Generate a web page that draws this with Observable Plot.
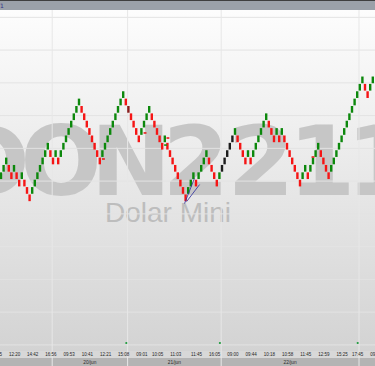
<!DOCTYPE html>
<html><head><meta charset="utf-8">
<script src="https://cdn.jsdelivr.net/npm/d3@7"></script>
<script src="https://cdn.jsdelivr.net/npm/@observablehq/plot@0.6"></script>
<style>
html,body{margin:0;padding:0;background:#fff;}
#wrap{position:relative;width:375px;height:366px;overflow:hidden;}
#topbar{position:absolute;left:0;top:0;width:375px;height:9px;background:#9ba1a9;border-top:1px solid #3f3f3f;}
#topbar span{position:absolute;left:0;top:1px;font:6px "DejaVu Sans";color:#34348a;}
#bg{position:absolute;left:0;top:10px;width:375px;height:356px;
 background:linear-gradient(to bottom,#fdfdfd 0px,#d3d3d3 341px,#d8d8d8 341px,#d8d8d8 348px,#b4b4b4 348px,#b4b4b4 356px);}
#wm{position:absolute;left:0;top:0;width:375px;height:366px;}
#chart{position:absolute;left:0;top:10px;}
</style></head>
<body><div id="wrap">
<div id="topbar"><span>1</span></div>
<div id="bg"></div>
<svg id="wm" width="375" height="366">
 <text y="195" font-family="DejaVu Sans" font-weight="bold" font-size="96" fill="#c6c6c6" text-anchor="middle"><tspan x="-84">W</tspan><tspan x="-10">D</tspan><tspan x="61">O</tspan><tspan x="131">N</tspan><tspan x="196">2</tspan><tspan x="261">2</tspan><tspan x="322">1</tspan><tspan x="380">1</tspan></text>
 <text x="168" y="222" text-anchor="middle" font-family="Liberation Sans" font-size="28" fill="#bdbdbd">Dolar Mini</text>
</svg>
<div id="chart"></div>
</div>
<script>
// Renko brick mid prices (box 4.5), left to right
const bricks = [
5123,5127.5,5132,5127.5,5123,5127.5,5123,5118.5,5123,5118.5,5114,5109.5,
5114,5118.5,5123,5127.5,5132,5136.5,5141,5136.5,5132,5136.5,5132,5136.5,
5141,5145.5,5150,5154.5,5159,5163.5,5168,5163.5,5159,5154.5,5150,5145.5,
5141,5136.5,5132,5136.5,5141,5145.5,5150,5154.5,5159,5163.5,5168,5172.5,
5168,5163.5,5159,5154.5,5150,5145.5,5150,5154.5,5159,5163.5,5159,5154.5,
5150,5145.5,5141,5145.5,5141,5136.5,5132,5127.5,5123,5118.5,5114,5109.5,
5114,5118.5,5123,5118.5,5123,5127.5,5132,5136.5,5132,5127.5,5123,5118.5,
5123,5127.5,5132,5136.5,5141,5145.5,5150,5145.5,5141,5136.5,5132,5136.5,
5132,5136.5,5141,5145.5,5150,5154.5,5159,5154.5,5150,5145.5,5150,5145.5,
5150,5145.5,5141,5136.5,5132,5127.5,5123,5118.5,5123,5127.5,5123,5127.5,
5132,5136.5,5141,5136.5,5132,5127.5,5123,5127.5,5132,5136.5,5141,5145.5,
5150,5154.5,5159,5163.5,5168,5172.5,5177,5181.5,5177,5172.5,5177,5181.5
];
const box = 4.5;
const darkRedBricks = [49];
const blackBricks = [85, 86, 87, 88, 89];
const priceGrid = [5020, 5040, 5060, 5080, 5100, 5120, 5140, 5160, 5180, 5200, 5220];
const timeTickIdx = [-2, 5, 12, 19, 26, 33, 40, 47, 54, 60, 67, 75, 82, 89, 96, 103, 110, 117, 124, 131, 137, 144];
const timeLabels = ["10:55","12:20","14:42","16:56","09:53","10:41","12:21","15:08","09:01","10:05","11:03",
                    "11:45","16:05","09:00","09:44","10:18","10:58","11:45","12:59","15:25","17:45","09:04"];
const dayLabels = ["20/jun", "21/jun", "22/jun"];
const dayFirst = [20, 49, 85];
const dayLast = [48, 84, 137];
const trendFrom = [[70.4, 5106.3], [71.2, 5107.5]];
const trendTo = [[74.2, 5121.6], [76.2, 5117.9]];
// small trade markers: brick position, price, side
const markerIdx = [39.4, 55.4, 64.2, 120, 63.3];
const markerPrice = [5133.2, 5149.1, 5146.0, 5134.4, 5141.7];
const markerSide = ["sell", "sell", "sell", "sell", "buy"];

const brickData = bricks.map((p, i) => ({
  i, p,
  kind: darkRedBricks.includes(i) ? "darkred" : blackBricks.includes(i) ? "black"
        : (i === 0 || p > bricks[i - 1]) ? "up" : "down"
}));
const colors = {up: "#0c880c", down: "#f51515", darkred: "#8a1c1c", black: "#1d1d1d"};
const days = dayLabels.map((label, k) => ({label, first: dayFirst[k], last: dayLast[k]}));
const boundaries = [dayFirst[0] - 0.5, ...dayLast.map(d => d + 0.5)];
const ticks = timeTickIdx.map((i, k) => ({i, t: timeLabels[k]}));
const trends = trendFrom.map((a, k) => ({i1: a[0], p1: a[1], i2: trendTo[k][0], p2: trendTo[k][1]}));
const markers = markerIdx.map((i, k) => ({i, p: markerPrice[k], side: markerSide[k]}));

const font = "Liberation Sans, Arial, sans-serif";
const chart = Plot.plot({
  width: 375, height: 356,
  marginTop: 0, marginBottom: 15, marginLeft: 0, marginRight: 0,
  style: {background: "transparent", overflow: "visible"},
  x: {domain: [-1 / 2.6, 374 / 2.6], axis: null},
  y: {domain: [5015.96, 5224.17], axis: null},
  marks: [
    Plot.ruleY(priceGrid, {stroke: "#e3e3e3", strokeWidth: 1}),
    Plot.ruleX(boundaries, {stroke: "#e7e7e7", strokeWidth: 1, insetBottom: -15}),
    Plot.rect(brickData, {
      x1: d => d.i - 0.46, x2: d => d.i + 0.46,
      y1: d => d.p - box / 2 + 0.2, y2: d => d.p + box / 2 - 0.2,
      fill: d => colors[d.kind]
    }),
    Plot.rect(markers, {
      x1: d => d.i - 0.55, x2: d => d.i + 0.55,
      y1: d => d.p - 0.5, y2: d => d.p + 0.5,
      fill: d => d.side === "buy" ? "#1a8f1a" : "#e82020"
    }),
    Plot.link(trends, {x1: "i1", y1: "p1", x2: "i2", y2: "p2", stroke: "#2c2c9c", strokeWidth: 0.8}),
    Plot.dot(dayLast, {x: d => d, frameAnchor: "bottom", dy: -8.5, r: 1.1, fill: "#1b9b3b"}),
    Plot.text(ticks, {x: "i", text: "t", frameAnchor: "bottom", dy: 3.5, lineAnchor: "middle",
      fontSize: 4.5, fill: "#262626", fontFamily: font}),
    Plot.text(days, {x: d => (d.first + d.last) / 2, text: "label", frameAnchor: "bottom", dy: 11,
      lineAnchor: "middle", fontSize: 4.8, fill: "#2a2a2a", fontFamily: font})
  ]
});
document.getElementById("chart").appendChild(chart);
</script>
</body></html>
